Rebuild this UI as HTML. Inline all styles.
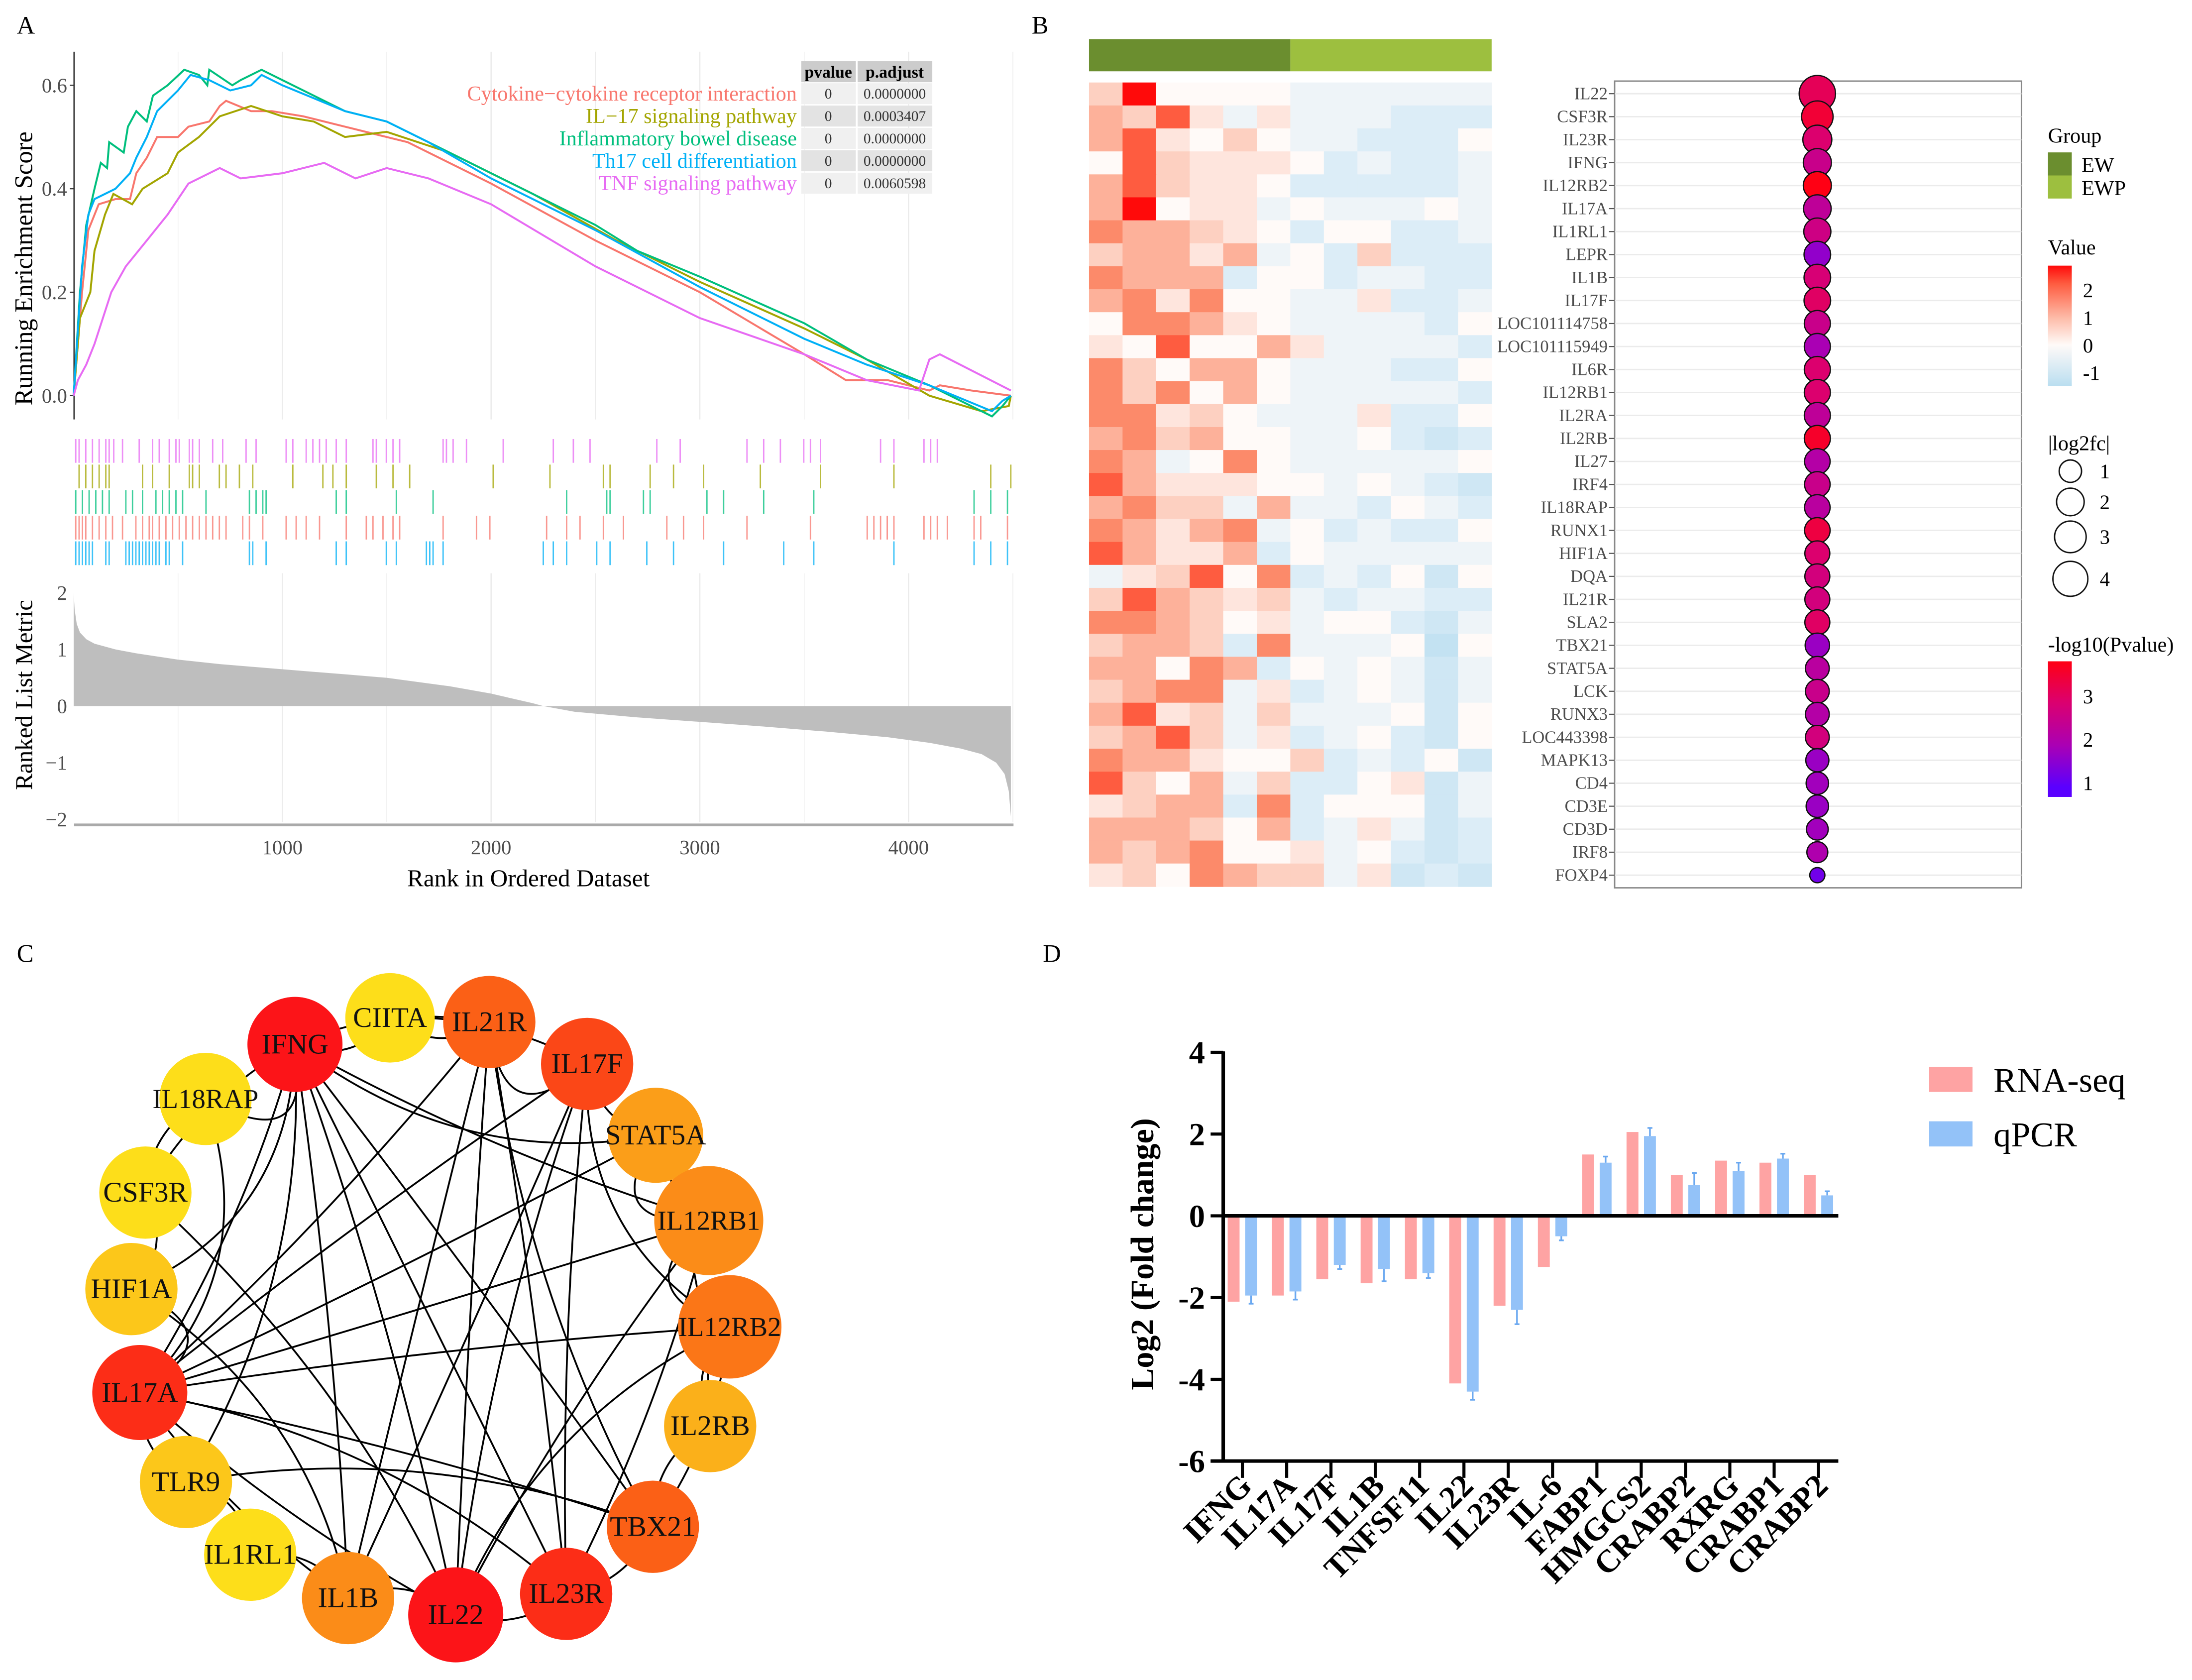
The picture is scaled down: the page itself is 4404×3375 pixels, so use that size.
<!DOCTYPE html>
<html><head><meta charset="utf-8"><style>
html,body{margin:0;padding:0;background:#fff;}
svg{display:block;font-family:"Liberation Serif",serif;}
</style></head><body>
<svg id="fig" xmlns="http://www.w3.org/2000/svg" width="4404" height="3375" viewBox="0 0 1568 1201.6" preserveAspectRatio="none">
<rect x="0" y="0" width="1568" height="1201.6" fill="#fff"/>
<text x="12" y="24" font-size="18">A</text>
<text x="738" y="24" font-size="18">B</text>
<text x="12" y="688" font-size="18">C</text>
<text x="746" y="688" font-size="18">D</text>
<g id="A"></g>
<g id="B"></g>
<g id="C"></g>
<g id="D"></g>
</svg>
<script>
const NS="http://www.w3.org/2000/svg";
function mk(parent,tag,attrs,txt){const e=document.createElementNS(NS,tag);for(const k in attrs)e.setAttribute(k,attrs[k]);if(txt!==undefined)e.textContent=txt;parent.appendChild(e);return e;}

/* ================= PANEL A DATA ================= */
const gseaNames=["Cytokine\u2212cytokine receptor interaction","IL\u221217 signaling pathway","Inflammatory bowel disease","Th17 cell differentiation","TNF signaling pathway"];
const gseaColors=["#f8766d","#a3a500","#00bf7d","#00b0f6","#e76bf3"];
const gseaPvalue=["0","0","0","0","0"];
const gseaPadj=["0.0000000","0.0003407","0.0000000","0.0000000","0.0060598"];
const esRed=[[0,0],[40,0.2],[70,0.32],[120,0.37],[200,0.38],[270,0.38],[300,0.43],[350,0.46],[400,0.5],[500,0.5],[550,0.52],[650,0.53],[700,0.56],[730,0.57],[850,0.55],[950,0.55],[1100,0.54],[1300,0.52],[1500,0.5],[1600,0.49],[2000,0.41],[2500,0.3],[3000,0.2],[3500,0.08],[3700,0.03],[3900,0.03],[4100,0.01],[4150,0.02],[4300,0.01],[4490,0.0]];
const esOlive=[[0,0],[30,0.15],[80,0.2],[100,0.28],[150,0.35],[190,0.39],[280,0.37],[330,0.4],[450,0.43],[500,0.47],[600,0.5],[700,0.54],[850,0.56],[1000,0.54],[1150,0.53],[1300,0.5],[1500,0.51],[1800,0.47],[2200,0.39],[2600,0.3],[3000,0.22],[3500,0.13],[3800,0.07],[4100,0.0],[4350,-0.03],[4480,-0.02],[4490,0.0]];
const esGreen=[[0,0],[30,0.2],[60,0.33],[100,0.4],[130,0.45],[160,0.44],[170,0.49],[240,0.47],[260,0.52],[300,0.55],[350,0.53],[380,0.58],[450,0.6],[530,0.63],[600,0.62],[640,0.6],[650,0.63],[760,0.6],[800,0.61],[900,0.63],[1000,0.61],[1250,0.56],[1300,0.55],[1500,0.53],[1700,0.49],[2000,0.43],[2500,0.33],[2700,0.28],[3000,0.23],[3500,0.14],[3800,0.07],[4100,0.02],[4400,-0.04],[4450,-0.02],[4490,0.0]];
const esBlue=[[0,0],[40,0.25],[70,0.35],[100,0.38],[150,0.39],[200,0.4],[270,0.43],[300,0.46],[350,0.5],[400,0.55],[500,0.59],[560,0.62],[650,0.61],[750,0.59],[850,0.6],[900,0.62],[1000,0.6],[1300,0.55],[1500,0.53],[1700,0.49],[2000,0.42],[2500,0.32],[3000,0.21],[3500,0.11],[3800,0.06],[4100,0.02],[4400,-0.03],[4450,-0.01],[4490,0.0]];
const esMagenta=[[0,0],[20,0.03],[60,0.06],[100,0.1],[180,0.2],[250,0.25],[350,0.3],[450,0.35],[550,0.41],[700,0.44],[800,0.42],[1000,0.43],[1200,0.45],[1350,0.42],[1500,0.44],[1700,0.42],[2000,0.37],[2500,0.25],[3000,0.15],[3500,0.08],[3800,0.03],[4050,0.01],[4100,0.07],[4150,0.08],[4490,0.01]];
const hitsMagenta=[10,26,58,90,122,154,170,192,234,314,378,410,458,490,506,554,570,602,666,714,826,874,1018,1050,1114,1146,1178,1210,1258,1306,1434,1450,1498,1530,1562,1770,1786,1818,1882,2058,2298,2394,2474,2794,2906,3226,3306,3386,3498,3530,3578,3866,3930,4074,4106,4138];
const hitsOlive=[26,58,90,122,154,170,330,378,458,554,570,602,698,730,794,858,1050,1194,1242,1306,1450,1530,1610,2010,2282,2538,2570,2762,2874,3018,3290,3578,3930,4394,4490];
const hitsGreen=[10,42,74,106,138,170,250,282,330,394,426,458,490,522,634,842,874,906,922,1258,1306,1546,1722,2362,2554,2570,2730,2762,3034,3114,3306,3546,4314,4394,4474];
const hitsRed=[10,26,42,58,90,122,154,186,234,298,330,362,378,410,442,474,506,538,570,602,634,666,698,730,810,842,906,1018,1066,1114,1178,1306,1402,1434,1482,1530,1562,1770,1930,1994,2266,2362,2426,2538,2634,2842,2922,3018,3226,3530,3802,3834,3866,3898,3930,4074,4106,4138,4186,4314,4346,4474];
const hitsBlue=[10,26,42,58,74,90,154,170,250,266,282,298,314,330,346,362,378,394,410,442,458,522,842,858,922,1258,1306,1498,1546,1690,1706,1722,1770,2250,2298,2362,2506,2570,2746,2874,3114,3402,3546,3930,4314,4394,4474];
const metricRanks=[0,5,15,30,60,100,200,300,500,700,1000,1300,1500,1800,2000,2200,2250,2400,2700,3000,3300,3600,3900,4100,4250,4350,4420,4460,4480,4490];
const metricVals=[2.0,1.7,1.45,1.3,1.18,1.1,1.0,0.93,0.82,0.74,0.65,0.56,0.5,0.35,0.22,0.05,0.0,-0.1,-0.2,-0.28,-0.36,-0.45,-0.55,-0.65,-0.75,-0.85,-1.0,-1.2,-1.5,-1.95];
const rankTicks=[1000,2000,3000,4000];
const esTicks=[0.0,0.2,0.4,0.6];
const metricTicks=[2,1,0,-1,-2];

const xR=r=>52.7+r*0.1493;
const yES=v=>283-v*370;
const yM=v=>505-v*40.5;
(function(){
const g=document.getElementById('A');
[500,1000,1500,2000,2500,3000,3500,4000,4500].forEach(r=>{
  const l1=mk(g,'line',{x1:xR(r),x2:xR(r),y1:37,y2:300,stroke:'#ebebeb','stroke-width':r%1000?0.5:0.9});
  
  const l2=mk(g,'line',{x1:xR(r),x2:xR(r),y1:410,y2:588,stroke:'#ebebeb','stroke-width':r%1000?0.5:0.9});
  
});
const ax=mk(g,'line',{x1:53,x2:53,y1:37,y2:300,stroke:'#333','stroke-width':1});

esTicks.forEach(t=>{
  const tx=mk(g,'text',{x:48,y:yES(t)+5,'font-size':14.5,fill:'#4d4d4d','text-anchor':'end'},t.toFixed(1));
  
  mk(g,'line',{x1:50,x2:53,y1:yES(t),y2:yES(t),stroke:'#333','stroke-width':0.8});
});
const yt=mk(g,'text',{x:0,y:0,'font-size':18,'text-anchor':'middle',transform:'translate(23,192) rotate(-90)'},'Running Enrichment Score');

const series=[esRed,esOlive,esGreen,esBlue,esMagenta];
series.forEach((s,i)=>{
  const p=mk(g,'polyline',{points:s.map(d=>xR(d[0]).toFixed(1)+','+yES(d[1]).toFixed(1)).join(' '),fill:'none',stroke:gseaColors[i],'stroke-width':1.4});
  
  
});
gseaNames.forEach((n,i)=>{
  const t=mk(g,'text',{x:570,y:72+i*16,'font-size':15,fill:gseaColors[i],'text-anchor':'end'},n);
  
});
mk(g,'rect',{x:573.2,y:43.8,width:39,height:15,fill:'#cccccc'});
mk(g,'rect',{x:613.5,y:43.8,width:53.4,height:15,fill:'#cccccc'});
const h1=mk(g,'text',{x:592.5,y:55.5,'font-size':12,'font-weight':'bold','text-anchor':'middle'},'pvalue');

const h2=mk(g,'text',{x:640,y:55.5,'font-size':12,'font-weight':'bold','text-anchor':'middle'},'p.adjust');

gseaPvalue.forEach((p,i)=>{
  const y=59.5+i*16;const c=i%2?'#e3e3e3':'#f0f0f0';
  mk(g,'rect',{x:573.2,y:y,width:39,height:15,fill:c});
  mk(g,'rect',{x:613.5,y:y,width:53.4,height:15,fill:c});
  const a=mk(g,'text',{x:592.5,y:y+11,'font-size':10.5,fill:'#333','text-anchor':'middle'},p);
  
  const b=mk(g,'text',{x:640,y:y+11,'font-size':10.5,fill:'#333','text-anchor':'middle'},gseaPadj[i]);
  
});
const hitSets=[hitsMagenta,hitsOlive,hitsGreen,hitsRed,hitsBlue];
const hitCols=[gseaColors[4],gseaColors[1],gseaColors[2],gseaColors[0],gseaColors[3]];
hitSets.forEach((hs,k)=>{
  const y0=314+k*18.3;
  hs.forEach(r=>{
    const l=mk(g,'line',{x1:xR(r),x2:xR(r),y1:y0,y2:y0+17,stroke:hitCols[k],'stroke-width':1,opacity:0.75});
    
  });
});
let d='M'+xR(0)+','+yM(0);
metricRanks.forEach((r,i)=>{d+=' L'+xR(r).toFixed(1)+','+yM(metricVals[i]).toFixed(1);});
d+=' L'+xR(metricRanks[metricRanks.length-1])+','+yM(0)+' Z';
const ar=mk(g,'path',{d:d,fill:'#bebebe'});

metricTicks.forEach(t=>{
  const tx=mk(g,'text',{x:48,y:yM(t)+5,'font-size':14.5,fill:'#4d4d4d','text-anchor':'end'},t<0?'\u2212'+(-t):String(t));
  
});
const mt=mk(g,'text',{x:0,y:0,'font-size':17.5,'text-anchor':'middle',transform:'translate(23,497) rotate(-90)'},'Ranked List Metric');

const bx=mk(g,'line',{x1:53,x2:725,y1:590,y2:590,stroke:'#aaa','stroke-width':2});

rankTicks.forEach(r=>{
  const tx=mk(g,'text',{x:xR(r),y:611,'font-size':14.5,fill:'#4d4d4d','text-anchor':'middle'},String(r));
  
});
const xt=mk(g,'text',{x:378,y:634,'font-size':17.5,'text-anchor':'middle'},'Rank in Ordered Dataset');

})();

/* ================= PANEL B DATA ================= */
const genes=["IL22","CSF3R","IL23R","IFNG","IL12RB2","IL17A","IL1RL1","LEPR","IL1B","IL17F","LOC101114758","LOC101115949","IL6R","IL12RB1","IL2RA","IL2RB","IL27","IRF4","IL18RAP","RUNX1","HIF1A","DQA","IL21R","SLA2","TBX21","STAT5A","LCK","RUNX3","LOC443398","MAPK13","CD4","CD3E","CD3D","IRF8","FOXP4"];
const heatRows=["2R0000aaaaaa","3251a1aaabbb","351020aabbb0","0521110babba","352110bbbbba","3R011a0aaa0a","433210b00bba","23313a0b2bbb","4333b00baabb","341400aa1bba","044310aaaab0","1050031aaaab","420330aaabb0","424030aaaaab","44120aaa1bb0","342300aa0bcb","43a040aaaaa0","5311100a0abc","3422a3aab0ab","43134a0babb0","53113b0aaaaa","a12504bab0c0","253212abaabb","443201a00bca","2332b4aaa0d0","33043b0a0aca","2344a1ba0aca","3512a2aaa0c0","2352a1ba0bc0","4331002bab0c","5203a2bb01ca","1233b4b000ca","333203ba1acb","3234001a0bcb","1204322a1cbc"];
const heatLevels={R:2.6,'5':2.0,'4':1.5,'3':1.0,'2':0.6,'1':0.3,'0':0,a:-0.3,b:-0.6,c:-0.9,d:-1.2};
const log2fc=[4.0,2.6,2.0,1.8,1.8,1.7,1.6,1.5,1.5,1.5,1.4,1.4,1.4,1.4,1.4,1.4,1.3,1.3,1.3,1.3,1.2,1.2,1.2,1.2,1.1,1.0,1.0,1.0,1.0,0.9,0.8,0.8,0.7,0.6,0.1];
const negLogP=[3.2,3.5,3.0,2.6,3.8,2.4,2.7,1.7,2.9,3.1,2.6,2.0,3.0,3.0,2.4,3.6,2.2,2.6,2.3,3.4,3.0,2.8,2.8,3.1,1.8,2.3,2.6,2.2,2.8,1.8,1.9,1.8,1.9,2.1,1.3];
const groups=["EW","EWP"];
const groupColors=["#6b8e2f","#9dbf3f"];
const valueTicks=[2,1,0,-1];
const sizeTicks=[1,2,3,4];
const pTicks=[3,2,1];

function lerp(a,b,t){return a.map((v,i)=>Math.round(v+(b[i]-v)*t));}
function rgb(c){return 'rgb('+c.join(',')+')';}
function heatColor(v){
  const stops=[[-1.4,[186,222,240]],[-0.6,[220,237,247]],[0,[255,250,248]],[0.6,[253,208,193]],[1.5,[252,138,106]],[2.0,[254,92,64]],[2.6,[255,10,10]]];
  if(v<=stops[0][0])return rgb(stops[0][1]);
  for(let i=1;i<stops.length;i++){if(v<=stops[i][0]){const t=(v-stops[i-1][0])/(stops[i][0]-stops[i-1][0]);return rgb(lerp(stops[i-1][1],stops[i][1],t));}}
  return rgb(stops[stops.length-1][1]);
}
function pColor(v){
  const stops=[[1,[90,0,255]],[2,[170,0,180]],[3,[220,0,110]],[3.8,[255,0,20]]];
  if(v<=1)return rgb(stops[0][1]);
  for(let i=1;i<stops.length;i++){if(v<=stops[i][0]){const t=(v-stops[i-1][0])/(stops[i][0]-stops[i-1][0]);return rgb(lerp(stops[i-1][1],stops[i][1],t));}}
  return rgb(stops[stops.length-1][1]);
}
const rSize=fc=>4+4.5*Math.sqrt(fc);
(function(){
const g=document.getElementById('B');
const hx0=779,cw=24,hy0=59,rh=16.43;
groups.forEach((gr,i)=>{
  const r=mk(g,'rect',{x:hx0+i*144,y:28,width:144,height:23,fill:groupColors[i]});
  
});
heatRows.forEach((row,ri)=>{
  row.split('').forEach((ch,ci)=>{
    const r=mk(g,'rect',{x:hx0+ci*cw,y:hy0+ri*rh,width:cw+0.3,height:rh+0.3,fill:heatColor(heatLevels[ch])});
    
  });
});
const box=mk(g,'rect',{x:1155,y:58,width:291,height:577,fill:'#fff',stroke:'#888','stroke-width':1});

const yD=i=>67+i*16.44;
genes.forEach((gn,i)=>{
  mk(g,'line',{x1:1155,x2:1446,y1:yD(i),y2:yD(i),stroke:'#ebebeb','stroke-width':1});
});
genes.forEach((gn,i)=>{
  const t=mk(g,'text',{x:1150,y:yD(i)+4,'font-size':12.3,fill:'#4d4d4d','text-anchor':'end'},gn);
  
  mk(g,'line',{x1:1151,x2:1155,y1:yD(i),y2:yD(i),stroke:'#555','stroke-width':0.8});
  const c=mk(g,'circle',{cx:1300,cy:yD(i),r:rSize(log2fc[i]),fill:pColor(negLogP[i]),stroke:'#111','stroke-width':0.9});
  
});
const lt=mk(g,'text',{x:1465,y:102,'font-size':15},'Group');
groups.forEach((gr,i)=>{
  mk(g,'rect',{x:1465,y:109+i*16.5,width:17,height:16.5,fill:groupColors[i]});
  const t=mk(g,'text',{x:1489,y:123+i*16.5,'font-size':15},gr);
  
});
const vt=mk(g,'text',{x:1465,y:182,'font-size':15},'Value');
const defs=mk(g,'defs',{});
const lg=mk(defs,'linearGradient',{id:'vg',x1:0,y1:0,x2:0,y2:1});
[[0,2.6],[0.15,2.0],[0.45,0.8],[0.66,0],[1,-1.4]].forEach(s=>mk(lg,'stop',{offset:s[0],'stop-color':heatColor(s[1])}));
mk(g,'rect',{x:1465,y:190,width:17,height:86,fill:'url(#vg)'});
const vy=v=>247-v*19.7;
valueTicks.forEach(v=>{
  const t=mk(g,'text',{x:1490,y:vy(v)+5,'font-size':14.5},String(v));
  
});
const st=mk(g,'text',{x:1465,y:322,'font-size':15},'|log2fc|');
const sy=[337,359,384,414];
sizeTicks.forEach((s,i)=>{
  const c=mk(g,'circle',{cx:1481,cy:sy[i],r:rSize(s)-0.5,fill:'none',stroke:'#111','stroke-width':1});
  
  const t=mk(g,'text',{x:1502,y:sy[i]+5,'font-size':14.5},String(s));
  
});
const pt=mk(g,'text',{x:1465,y:466,'font-size':15},'-log10(Pvalue)');
const pg=mk(defs,'linearGradient',{id:'pg',x1:0,y1:0,x2:0,y2:1});
[[0,3.9],[0.3,3],[0.62,2],[0.93,1],[1,0.9]].forEach(s=>mk(pg,'stop',{offset:s[0],'stop-color':pColor(s[1])}));
mk(g,'rect',{x:1465,y:473,width:17,height:97,fill:'url(#pg)'});
pTicks.forEach(v=>{
  const t=mk(g,'text',{x:1490,y:498+(3-v)*31+5,'font-size':14.5},String(v));
  
});
})();

/* ================= PANEL C DATA ================= */
const nodeNames=["IFNG","CIITA","IL21R","IL17F","STAT5A","IL12RB1","IL12RB2","IL2RB","TBX21","IL23R","IL22","IL1B","IL1RL1","TLR9","IL17A","HIF1A","CSF3R","IL18RAP"];
const nodeDegree=[10,1,7,8,4,5,6,3,7,9,10,5,1,2,9,2,1,1];
const edges=[["IFNG","IL18RAP"],["IFNG","CIITA"],["IFNG","IL21R"],["IFNG","STAT5A"],["IFNG","IL12RB1"],["IFNG","TBX21"],["IFNG","IL22"],["IFNG","IL17A"],["IFNG","CSF3R"],["IFNG","HIF1A"],["IFNG","IL1B"],["IFNG","IL23R"],["IFNG","TLR9"],["CIITA","IL21R"],["CIITA","IL17F"],["IL21R","IL17F"],["IL21R","IL22"],["IL21R","IL23R"],["IL21R","TBX21"],["IL21R","IL17A"],["IL21R","IL1B"],["IL17F","IL22"],["IL17F","IL23R"],["IL17F","IL1B"],["IL17F","IL12RB2"],["IL17F","STAT5A"],["IL17F","IL17A"],["STAT5A","IL12RB1"],["STAT5A","IL17A"],["STAT5A","IL2RB"],["IL12RB1","IL12RB2"],["IL12RB1","IL22"],["IL12RB1","IL23R"],["IL12RB2","IL17A"],["IL12RB2","IL2RB"],["IL12RB2","TBX21"],["IL12RB2","IL22"],["IL2RB","TBX21"],["TBX21","IL23R"],["TBX21","TLR9"],["TBX21","IL17A"],["IL23R","IL22"],["IL23R","IL17A"],["IL22","IL1B"],["IL22","IL17A"],["IL22","CSF3R"],["IL1B","IL1RL1"],["IL1B","IL17A"],["IL1B","HIF1A"],["IL1RL1","TLR9"],["TLR9","IL17A"],["IL17A","HIF1A"],["HIF1A","CSF3R"],["CSF3R","IL18RAP"],["IL18RAP","IL17A"],["IL12RB1","IL17A"]];
const nodePos={IFNG:[211,747],CIITA:[279,728],IL21R:[350,731],IL17F:[420,761],STAT5A:[469,812],IL12RB1:[507,873],IL12RB2:[522,949],IL2RB:[508,1020],TBX21:[467,1092],IL23R:[405,1140],IL22:[326,1155],IL1B:[249,1143],IL1RL1:[179,1112],TLR9:[133,1060],IL17A:[100,996],HIF1A:[94,922],CSF3R:[104,853],IL18RAP:[147,786]};
const nodeR={IFNG:34,CIITA:32,IL21R:33,IL17F:33,STAT5A:34,IL12RB1:39,IL12RB2:37,IL2RB:33,TBX21:33,IL23R:33,IL22:34,IL1B:33,IL1RL1:33,TLR9:33,IL17A:34,HIF1A:33,CSF3R:33,IL18RAP:33};
function degColor(dg){
  const stops=[[1,[253,222,26]],[3,[251,176,26]],[5,[251,140,24]],[7,[251,96,22]],[10,[252,20,24]]];
  for(let i=1;i<stops.length;i++){if(dg<=stops[i][0]){const t=(dg-stops[i-1][0])/(stops[i][0]-stops[i-1][0]);return rgb(lerp(stops[i-1][1],stops[i][1],t));}}
  return rgb(stops[stops.length-1][1]);
}
(function(){
const g=document.getElementById('C');
const cx=310,cy=945;
edges.forEach((e,i)=>{
  const a=nodePos[e[0]],b=nodePos[e[1]];
  const mx=(a[0]+b[0])/2,my=(a[1]+b[1])/2;
  const f=(i%3===0)?0.35:(i%3===1?0.12:-0.1);
  const qx=mx+(cx-mx)*f,qy=my+(cy-my)*f;
  const p=mk(g,'path',{d:`M${a[0]},${a[1]} Q${qx.toFixed(1)},${qy.toFixed(1)} ${b[0]},${b[1]}`,fill:'none',stroke:'#000','stroke-width':1.3});
  
});
nodeNames.forEach((n,i)=>{
  const p=nodePos[n];
  const c=mk(g,'circle',{cx:p[0],cy:p[1],r:nodeR[n],fill:degColor(nodeDegree[i])});
  
  const t=mk(g,'text',{x:p[0],y:p[1]+6.5,'font-size':n.length>6?19.5:20.5,'text-anchor':'middle',fill:'#111'},n);
  
});
})();

/* ================= PANEL D DATA ================= */
const dCats=["IFNG","IL17A","IL17F","IL1B","TNFSF11","IL22","IL23R","IL-6","FABP1","HMGCS2","CRABP2","RXRG","CRABP1","CRABP2"];
const rnaSeq=[-2.1,-1.95,-1.55,-1.65,-1.55,-4.1,-2.2,-1.25,1.5,2.05,1.0,1.35,1.3,1.0];
const qpcr=[-1.95,-1.85,-1.2,-1.3,-1.4,-4.3,-2.3,-0.5,1.3,1.95,0.75,1.1,1.4,0.5];
const qpcrErr=[0.2,0.2,0.1,0.3,0.12,0.2,0.35,0.1,0.15,0.2,0.3,0.2,0.12,0.1];
const dTicks=[4,2,0,-2,-4,-6];
const yF=v=>869.6-v*29.24;
const xCat=i=>888.7+i*31.7;
(function(){
const g=document.getElementById('D');
dCats.forEach((c,i)=>{
  const x=xCat(i);
  const y1=yF(Math.max(0,rnaSeq[i])),y2=yF(Math.min(0,rnaSeq[i]));
  const b=mk(g,'rect',{x:x-10.5,y:y1,width:8.5,height:y2-y1,fill:'#fea3a3'});
  
  const z1=yF(Math.max(0,qpcr[i])),z2=yF(Math.min(0,qpcr[i]));
  const q=mk(g,'rect',{x:x+2,y:z1,width:8.5,height:z2-z1,fill:'#93c2f8'});
  
  const s=qpcr[i]<0?-1:1;const ey=yF(qpcr[i]+s*qpcrErr[i]);
  const el=mk(g,'path',{d:`M${x+6.25},${yF(qpcr[i])} L${x+6.25},${ey} M${x+4.5},${ey} L${x+8},${ey}`,stroke:'#6aa8f0','stroke-width':1.2,fill:'none'});
  
  mk(g,'line',{x1:x,x2:x,y1:1045,y2:1057,stroke:'#000','stroke-width':2.2});
  const t=mk(g,'text',{x:0,y:0,'font-size':23,'font-weight':'bold','text-anchor':'end',transform:`translate(${x+8},${1064}) rotate(-45)`},c);
  
});
const ya=mk(g,'line',{x1:875,x2:875,y1:752,y2:1046,stroke:'#000','stroke-width':2.5});

const xa=mk(g,'line',{x1:866,x2:1315,y1:1045,y2:1045,stroke:'#000','stroke-width':2.5});

const zl=mk(g,'line',{x1:875,x2:1315,y1:yF(0),y2:yF(0),stroke:'#000','stroke-width':2.5});

dTicks.forEach(v=>{
  mk(g,'line',{x1:866,x2:875,y1:yF(v),y2:yF(v),stroke:'#000','stroke-width':2.2});
  const t=mk(g,'text',{x:862,y:yF(v)+8,'font-size':23,'font-weight':'bold','text-anchor':'end'},v<0?'-'+(-v):String(v));
  
});
const yt=mk(g,'text',{x:0,y:0,'font-size':23.5,'font-weight':'bold','text-anchor':'middle',transform:'translate(825,897) rotate(-90)'},'Log2 (Fold change)');

const l1=mk(g,'rect',{x:1380,y:763,width:31,height:18,fill:'#fea3a3'});

const t1=mk(g,'text',{x:1426,y:781,'font-size':25},'RNA-seq');

const l2=mk(g,'rect',{x:1380,y:802,width:31,height:18,fill:'#93c2f8'});

const t2=mk(g,'text',{x:1426,y:820,'font-size':25},'qPCR');

})();
</script>
</body></html>
